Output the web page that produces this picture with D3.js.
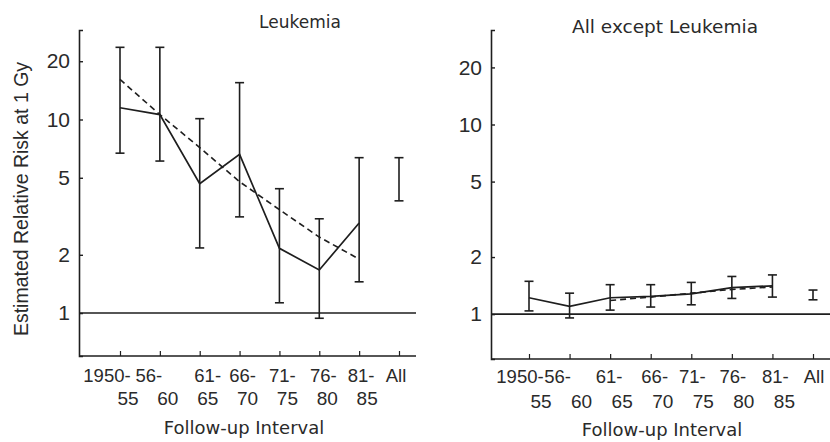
<!DOCTYPE html>
<html>
<head>
<meta charset="utf-8">
<script src="https://cdn.jsdelivr.net/npm/d3@7"></script>
<style>
  html, body { margin: 0; padding: 0; background: #fff; }
  svg { display: block; }
</style>
</head>
<body>
<svg id="chart" width="830" height="442"></svg>
<script>
// ---------- data ----------
const categories = ["1950-55", "56-60", "61-65", "66-70", "71-75", "76-80", "81-85", "All"];
const tickLine1 = ["1950-", "56-", "61-", "66-", "71-", "76-", "81-", "All"];
const tickLine2 = ["55", "60", "65", "70", "75", "80", "85", ""];
const yTicks = [1, 2, 5, 10, 20];

// Leukemia panel
const leukEstimate = [11.5, 10.6, 4.66, 6.6, 2.16, 1.67, 2.92, null];
const leukLower    = [6.7, 6.1, 2.17, 3.14, 1.13, 0.94, 1.45, 3.8];
const leukUpper    = [23.6, 23.6, 10.1, 15.5, 4.39, 3.07, 6.35, 6.35];
const leukTrend    = [16.1, 10.6, 7.16, 4.77, 3.42, 2.47, 1.9, null];

// All except leukemia panel
const otherEstimate = [1.22, 1.10, 1.22, 1.24, 1.28, 1.38, 1.41, null];
const otherLower    = [1.04, 0.955, 1.05, 1.09, 1.12, 1.21, 1.23, 1.19];
const otherUpper    = [1.49, 1.29, 1.43, 1.43, 1.47, 1.58, 1.61, 1.34];
const otherTrend    = [null, null, 1.18, 1.23, 1.29, 1.35, 1.39, null];

// ---------- drawing ----------
const svg = d3.select("#chart");
const ink = "#1e1e1e";
const font = "'Liberation Sans', Arial, Helvetica, sans-serif";
const titleFont = "'DejaVu Sans', 'Noto Sans', sans-serif";

const panels = [
  { title: "Leukemia", titleX: 300, titleY: 28, titleSize: 17,
    est: leukEstimate, lo: leukLower, hi: leukUpper, trend: leukTrend,
    axisX: 79, right: 416, top: 30, bottom: 356,
    xFirst: 120, xLast: 399, yDomain: [0.6, 29],
    line1Nudge: [-13, -11, 8, 3, 3, 4, 2, -3], line2Nudge: 8,
    line1Y: 382, line2Y: 405, xlabelX: 244, xlabelY: 434 },
  { title: "All except Leukemia", titleX: 665, titleY: 33, titleSize: 18.5,
    est: otherEstimate, lo: otherLower, hi: otherUpper, trend: otherTrend,
    axisX: 491, right: 830, top: 30, bottom: 359,
    xFirst: 529, xLast: 813, yDomain: [0.58, 31.5],
    line1Nudge: [-9, -12, -1, 4, 1, 1, 3, 1], line2Nudge: 12,
    line1Y: 383, line2Y: 408, xlabelX: 662, xlabelY: 436 }
];

panels.forEach(p => {
  const g = svg.append("g");
  const x = d3.scalePoint().domain(categories).range([p.xFirst, p.xLast]);
  const y = d3.scaleLog().domain(p.yDomain).range([p.bottom, p.top]);

  // y axis
  const yAxis = d3.axisLeft(y).tickValues(yTicks).tickSize(-4).tickPadding(9)
    .tickFormat(d3.format("d"));
  const ya = g.append("g").attr("transform", `translate(${p.axisX},0)`).call(yAxis);
  ya.select(".domain").attr("stroke", ink).attr("stroke-width", 1.6);
  ya.selectAll(".tick line").attr("stroke", ink).attr("stroke-width", 1.4);
  ya.selectAll(".tick text").attr("fill", "#2a2a2a").attr("font-family", font)
    .attr("font-size", 21);

  // x axis
  const xAxis = d3.axisBottom(x).tickSize(-5).tickFormat("");
  const xa = g.append("g").attr("transform", `translate(0,${p.bottom})`).call(xAxis);
  xa.select(".domain").attr("d", `M${p.axisX},0H${p.right}`)
    .attr("stroke", ink).attr("stroke-width", 1.6);
  xa.selectAll(".tick line").attr("stroke", ink).attr("stroke-width", 1.2);

  // two-line x tick labels
  g.append("g").selectAll("text.l1").data(categories).join("text")
    .attr("x", (d, i) => x(d) + p.line1Nudge[i]).attr("y", p.line1Y)
    .attr("text-anchor", "middle").attr("font-family", font).attr("font-size", 18.5)
    .attr("fill", "#2a2a2a").text((d, i) => tickLine1[i]);
  g.append("g").selectAll("text.l2").data(categories).join("text")
    .attr("x", d => x(d) + p.line2Nudge).attr("y", p.line2Y)
    .attr("text-anchor", "middle").attr("font-family", font).attr("font-size", 19)
    .attr("fill", "#2a2a2a").text((d, i) => tickLine2[i]);

  // reference line at RR = 1
  g.append("line").attr("x1", p.axisX).attr("x2", p.right)
    .attr("y1", y(1)).attr("y2", y(1)).attr("stroke", ink).attr("stroke-width", 1.6);

  // error bars
  const cap = 4.5;
  const bars = g.append("g").selectAll("g").data(categories).join("g");
  bars.append("line").attr("x1", d => x(d)).attr("x2", d => x(d))
    .attr("y1", (d, i) => y(p.lo[i])).attr("y2", (d, i) => y(p.hi[i]))
    .attr("stroke", ink).attr("stroke-width", 1.6);
  bars.append("line").attr("x1", d => x(d) - cap).attr("x2", d => x(d) + cap)
    .attr("y1", (d, i) => y(p.lo[i])).attr("y2", (d, i) => y(p.lo[i]))
    .attr("stroke", ink).attr("stroke-width", 1.6);
  bars.append("line").attr("x1", d => x(d) - cap).attr("x2", d => x(d) + cap)
    .attr("y1", (d, i) => y(p.hi[i])).attr("y2", (d, i) => y(p.hi[i]))
    .attr("stroke", ink).attr("stroke-width", 1.6);

  // estimate line (solid)
  const line = d3.line().defined(d => d.v != null).x(d => x(d.c)).y(d => y(d.v));
  g.append("path").datum(categories.map((c, i) => ({ c, v: p.est[i] })))
    .attr("d", line).attr("fill", "none").attr("stroke", ink).attr("stroke-width", 1.7);

  // fitted trend (dashed)
  g.append("path").datum(categories.map((c, i) => ({ c, v: p.trend[i] })).filter(d => d.v != null))
    .attr("d", line).attr("fill", "none").attr("stroke", ink).attr("stroke-width", 1.6)
    .attr("stroke-dasharray", "6,4");

  // titles
  g.append("text").attr("x", p.titleX).attr("y", p.titleY).attr("text-anchor", "middle")
    .attr("font-family", titleFont).attr("font-size", p.titleSize).attr("fill", "#2a2a2a").text(p.title);
  g.append("text").attr("x", p.xlabelX).attr("y", p.xlabelY).attr("text-anchor", "middle")
    .attr("font-family", titleFont).attr("font-size", 18).attr("fill", "#2a2a2a")
    .text("Follow-up Interval");
});

// y-axis label
svg.append("text").attr("transform", "translate(28,199) rotate(-90)")
  .attr("text-anchor", "middle").attr("font-family", font).attr("font-size", 19.5)
  .attr("fill", "#2a2a2a").text("Estimated Relative Risk at 1 Gy");
</script>
</body>
</html>
